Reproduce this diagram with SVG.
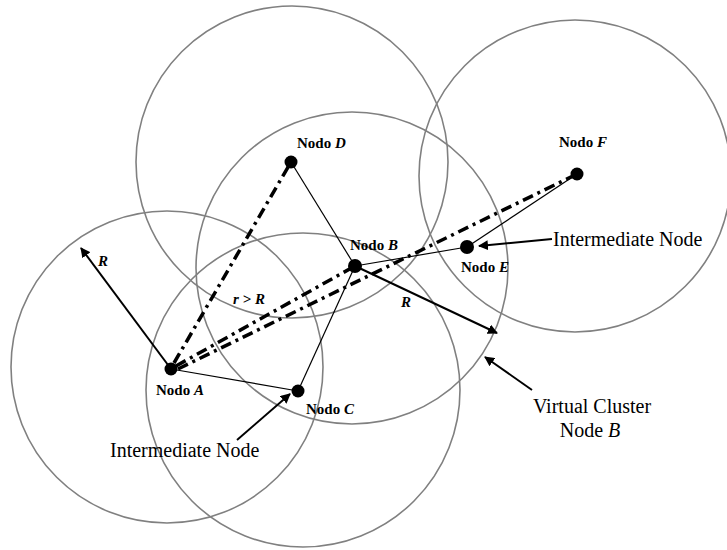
<svg xmlns="http://www.w3.org/2000/svg" width="727" height="550" viewBox="0 0 727 550">
<style>
.rng{fill:none;stroke:#808080;stroke-width:1.6}
.thin{stroke:#000;stroke-width:1.2;fill:none}
.dd{stroke:#000;stroke-width:3.5;fill:none;stroke-dasharray:11 5 3 5}
.arr{stroke:#000;stroke-width:2;fill:none;marker-end:url(#ah)}
.nd{fill:#000}
.lbl{font-family:"Liberation Serif","Times New Roman",serif;font-size:15px;font-weight:bold;fill:#000}
.big{font-family:"Liberation Serif","Times New Roman",serif;font-size:20px;fill:#000}
</style>
<defs>
<marker id="ah" viewBox="0 0 10 10" refX="9" refY="5" markerWidth="5" markerHeight="5" orient="auto" markerUnits="strokeWidth">
<path d="M0,0 L10,5 L0,10 z" fill="#000"/>
</marker>
</defs>
<rect width="727" height="550" fill="#fff"/>
<g id="ranges">
<circle class="rng" cx="167" cy="367" r="156"/>
<circle class="rng" cx="292" cy="162" r="156"/>
<circle class="rng" cx="352" cy="268" r="156"/>
<circle class="rng" cx="303" cy="390" r="157"/>
<circle class="rng" cx="575" cy="176" r="156"/>
</g>
<g id="connectors">
<line class="thin" x1="171" y1="369" x2="298" y2="391"/>
<line class="thin" x1="298" y1="391" x2="355" y2="266"/>
<line class="thin" x1="291" y1="162" x2="355" y2="266"/>
<line class="thin" x1="355" y1="266" x2="467" y2="247"/>
<line class="thin" x1="467" y1="247" x2="577" y2="174"/>
<line class="dd" x1="174" y1="363" x2="291" y2="162"/>
<line class="dd" x1="176" y1="366" x2="355" y2="266"/>
<line class="dd" x1="178" y1="369" x2="577" y2="174"/>
<line class="arr" x1="171" y1="369" x2="81" y2="248"/>
<line class="arr" x1="355" y1="266" x2="497" y2="333"/>
<line class="arr" x1="552" y1="239" x2="479" y2="246"/>
<line class="arr" x1="237" y1="440" x2="290" y2="394"/>
<line class="arr" x1="532" y1="390" x2="485" y2="357"/>
</g>
<g id="nodeA"><circle class="nd" cx="171" cy="369" r="6.5"/><text class="lbl" x="156" y="395">Nodo <tspan font-style="italic">A</tspan></text></g>
<g id="nodeB"><circle class="nd" cx="355" cy="266" r="7"/><text class="lbl" x="350" y="250">Nodo <tspan font-style="italic">B</tspan></text></g>
<g id="nodeC"><circle class="nd" cx="298" cy="391" r="6.5"/><text class="lbl" x="306" y="414">Nodo <tspan font-style="italic">C</tspan></text></g>
<g id="nodeD"><circle class="nd" cx="291" cy="162" r="6.5"/><text class="lbl" x="297" y="148">Nodo <tspan font-style="italic">D</tspan></text></g>
<g id="nodeE"><circle class="nd" cx="467" cy="247" r="7"/><text class="lbl" x="461" y="272">Nodo <tspan font-style="italic">E</tspan></text></g>
<g id="nodeF"><circle class="nd" cx="577" cy="174" r="6.5"/><text class="lbl" x="559" y="147">Nodo <tspan font-style="italic">F</tspan></text></g>
<g id="labels">
<text class="lbl" x="98" y="266" font-style="italic">R</text>
<text class="lbl" x="401" y="307" font-style="italic">R</text>
<text class="lbl" x="233" y="304" font-style="italic">r &gt; R</text>
<text class="big" x="553" y="246">Intermediate Node</text>
<text class="big" x="110" y="457">Intermediate Node</text>
<text class="big" x="592" y="413" text-anchor="middle">Virtual Cluster</text>
<text class="big" x="590" y="437" text-anchor="middle">Node <tspan font-style="italic">B</tspan></text>
</g>
</svg>
